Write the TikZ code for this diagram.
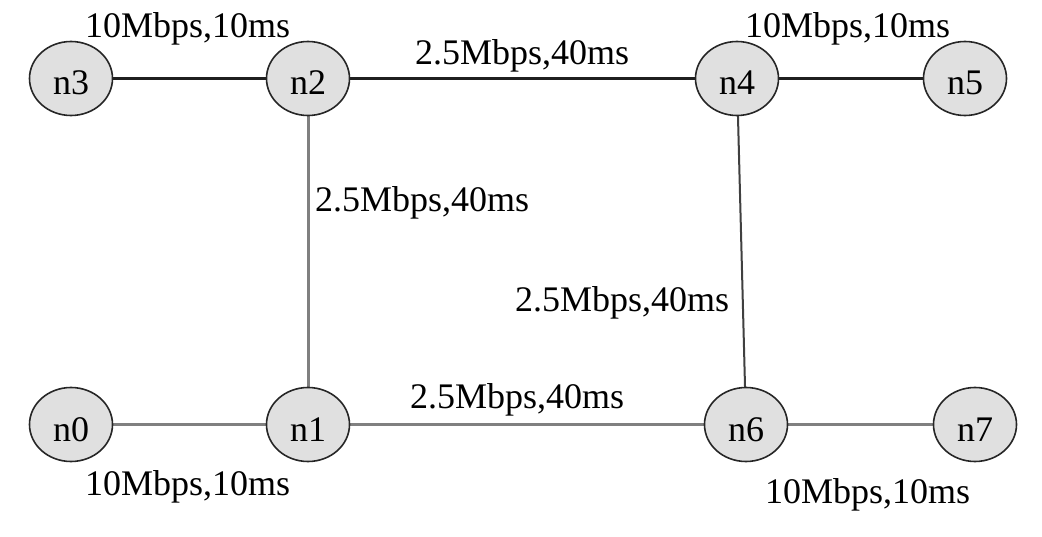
\documentclass[tikz,border=0pt]{standalone}
\usepackage{fontspec}
\setmainfont{Liberation Serif}
\usetikzlibrary{shapes.geometric}
\begin{document}
\begin{tikzpicture}[x=1pt,y=-1pt,
  hostnode/.style={ellipse,draw=black!85,line width=1.6pt,fill=black!12,
    minimum width=83pt,minimum height=74pt,inner sep=0pt,
    text height=33pt,text depth=0pt,font=\fontsize{36}{40}\selectfont},
  darklink/.style={draw=black!88,line width=2.2pt},
  graylink/.style={draw=black!50,line width=3pt},
  linklabel/.style={anchor=base west,inner sep=0pt,font=\fontsize{36}{40}\selectfont}]
\useasboundingbox (0,0) rectangle (1042,537);
\fill[white] (0,0) rectangle (1042,537);
% links first (behind nodes)
\coordinate (c3) at (71,78.5);
\coordinate (c2) at (308,78.5);
\coordinate (c4) at (737,78.5);
\coordinate (c5) at (965,78.5);
\coordinate (c0) at (71,424.5);
\coordinate (c1) at (308,424.5);
\coordinate (c6) at (746,424.5);
\coordinate (c7) at (975,424.5);
\draw[darklink] (c3) -- (c2);
\draw[darklink] (c2) -- (c4);
\draw[darklink] (c4) -- (c5);
\draw[graylink] (c2) -- (c1);
\draw[graylink,line width=2pt,draw=black!75] (c4) -- (c6);
\draw[graylink] (c0) -- (c1);
\draw[graylink] (c1) -- (c6);
\draw[graylink] (c6) -- (c7);
% nodes
\node[hostnode] (n3) at (c3) {n3};
\node[hostnode] (n2) at (c2) {n2};
\node[hostnode] (n4) at (c4) {n4};
\node[hostnode] (n5) at (c5) {n5};
\node[hostnode] (n0) at (c0) {n0};
\node[hostnode] (n1) at (c1) {n1};
\node[hostnode] (n6) at (c6) {n6};
\node[hostnode] (n7) at (c7) {n7};
% labels
\node[linklabel] (l32) at (85,38) {10Mbps,10ms};
\node[linklabel] (l45) at (745,38) {10Mbps,10ms};
\node[linklabel] (l24) at (415,65) {2.5Mbps,40ms};
\node[linklabel] (l21) at (315,212) {2.5Mbps,40ms};
\node[linklabel] (l46) at (515,312) {2.5Mbps,40ms};
\node[linklabel] (l16) at (410,408) {2.5Mbps,40ms};
\node[linklabel] (l01) at (85,495) {10Mbps,10ms};
\node[linklabel] (l67) at (765,503) {10Mbps,10ms};
\end{tikzpicture}
\end{document}
